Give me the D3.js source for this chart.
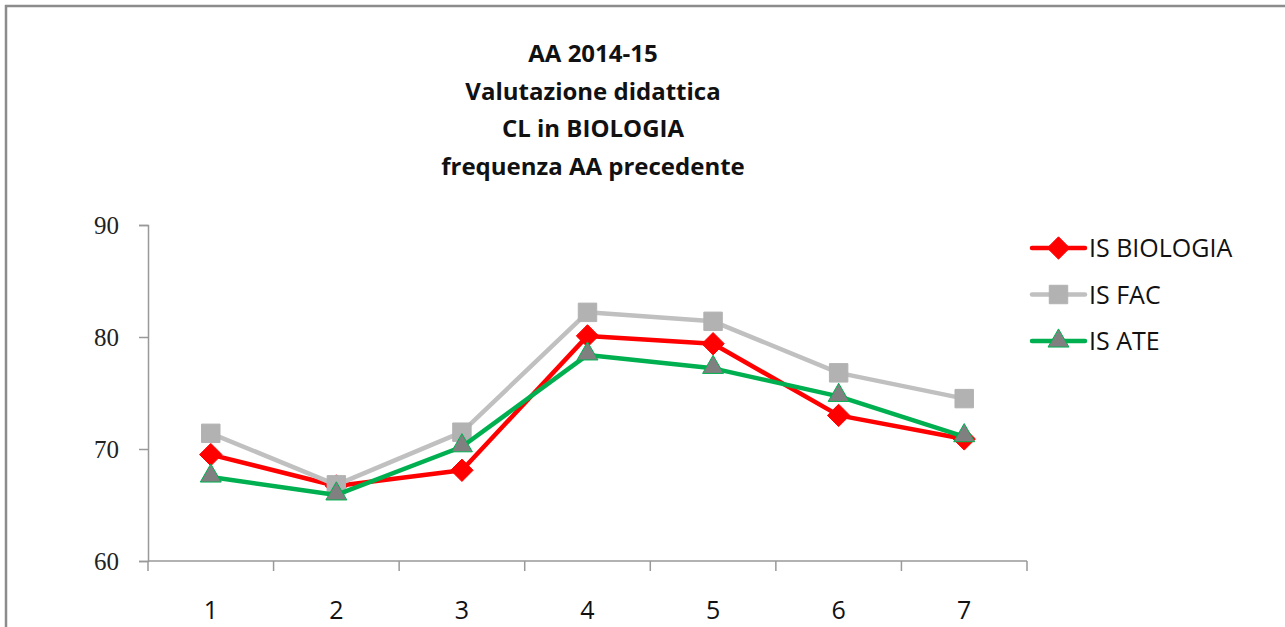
<!DOCTYPE html>
<html>
<head>
<meta charset="utf-8">
<script src="https://cdn.jsdelivr.net/npm/d3@7"></script>
<style>
  body { margin: 0; background: #fff; }
  svg { display: block; }
</style>
</head>
<body>
<div id="main"></div>
<script>
var categories = ["1", "2", "3", "4", "5", "6", "7"];
var isBiologia = [69.5, 66.7, 68.1, 80.1, 79.4, 73.0, 70.9];
var isFac = [71.4, 66.8, 71.5, 82.2, 81.4, 76.8, 74.5];
var isAte = [67.5, 65.9, 70.2, 78.4, 77.2, 74.7, 71.1];
var yTicks = [60, 70, 80, 90];
var titleLines = ["AA 2014-15", "Valutazione didattica", "CL in BIOLOGIA", "frequenza AA precedente"];

var diamond = { draw: function(ctx, size) {
  var r = Math.sqrt(size) / 2;
  ctx.moveTo(0, -r); ctx.lineTo(r, 0); ctx.lineTo(0, r); ctx.lineTo(-r, 0); ctx.closePath();
} };//square diamond like Excel

var series = [
  { name: "IS BIOLOGIA", values: isBiologia, line: "#ff0000", fill: "#ff0000", stroke: "#ff0000", shape: diamond, size: 500 },
  { name: "IS FAC", values: isFac, line: "#c0c0c0", fill: "#b2b2b2", stroke: "#b2b2b2", shape: d3.symbolSquare, size: 340 },
  { name: "IS ATE", values: isAte, line: "#00b050", fill: "#808080", stroke: "#00b050", shape: d3.symbolTriangle, size: 190 }
];

var sansFont = "'Open Sans', 'Noto Sans', sans-serif";

var canvas = d3.select("#main").append("svg")
  .attr("width", 1285)
  .attr("height", 627);//create canvas

canvas.append("rect")
  .attr("x", 6).attr("y", 6)
  .attr("width", 1300).attr("height", 650)
  .attr("fill", "#fff")
  .attr("stroke", "#8c8c8c")
  .attr("stroke-width", 2.5);//chart border

// title
canvas.append("g").selectAll("text").data(titleLines).enter().append("text")
  .attr("x", 593)
  .attr("y", function(d, i) { return 62 + i * 37.5; })
  .attr("text-anchor", "middle")
  .style("font-family", sansFont)
  .style("font-weight", "bold")
  .style("font-size", "24px")
  .style("fill", "#111")
  .text(function(d) { return d; });

var xScale = d3.scaleBand()
  .domain(categories)
  .range([148, 1027]);//x scale
var yScale = d3.scaleLinear()
  .domain([60, 90])
  .range([561, 225]);//y scale

var yAxis = canvas.append("g")
  .attr("transform", "translate(148, 0)")
  .call(d3.axisLeft(yScale).tickValues(yTicks).tickSize(9).tickPadding(20));
yAxis.select(".domain").attr("stroke", "#999").attr("stroke-width", 1.5);
yAxis.selectAll(".tick line").attr("stroke", "#999").attr("stroke-width", 1.5);
yAxis.selectAll(".tick text")
  .style("font-family", "'Liberation Serif', 'DejaVu Serif', serif")
  .style("font-size", "25px")
  .style("fill", "#222");

// x axis: ticks on band boundaries
var xAxis = canvas.append("g")
  .attr("transform", "translate(0, 561)");
xAxis.append("line")
  .attr("x1", xScale.range()[0]).attr("x2", xScale.range()[1])
  .attr("stroke", "#999").attr("stroke-width", 1.5);
var bounds = categories.map(function(d) { return xScale(d); }).concat([xScale.range()[1]]);
xAxis.selectAll(".bound").data(bounds).enter().append("line")
  .attr("class", "bound")
  .attr("x1", function(d) { return d; }).attr("x2", function(d) { return d; })
  .attr("y1", 0).attr("y2", 10)
  .attr("stroke", "#999").attr("stroke-width", 1.5);
xAxis.selectAll(".lab").data(categories).enter().append("text")
  .attr("class", "lab")
  .attr("x", function(d) { return xScale(d) + xScale.bandwidth() / 2; })
  .attr("y", 58)
  .attr("text-anchor", "middle")
  .style("font-family", sansFont)
  .style("font-size", "25px")
  .style("fill", "#111")
  .text(function(d) { return d; });

var line = d3.line()
  .x(function(d, i) { return xScale(categories[i]) + xScale.bandwidth() / 2; })
  .y(function(d) { return yScale(d); });

var groups = canvas.append("g").selectAll("g").data(series).enter().append("g");
groups.append("path")
  .attr("d", function(s) { return line(s.values); })
  .attr("fill", "none")
  .attr("stroke", function(s) { return s.line; })
  .attr("stroke-width", 4.5)
  .attr("stroke-linejoin", "round");
groups.each(function(s) {
  d3.select(this).selectAll("path.m").data(s.values).enter().append("path")
    .attr("class", "m")
    .attr("d", d3.symbol().type(s.shape).size(s.size))
    .attr("transform", function(d, i) {
      var dy = s.shape === d3.symbolTriangle ? -1 : 0;
      return "translate(" + (xScale(categories[i]) + xScale.bandwidth() / 2) + "," + (yScale(d) + dy) + ")";
    })
    .attr("fill", s.fill)
    .attr("stroke", s.stroke)
    .attr("stroke-width", 1);
});//draw lines and markers

// legend
var legend = canvas.append("g").selectAll("g").data(series).enter().append("g")
  .attr("transform", function(d, i) { return "translate(1032," + (248 + i * 46.5) + ")"; });
legend.append("line")
  .attr("x1", 0).attr("x2", 53)
  .attr("stroke", function(s) { return s.line; })
  .attr("stroke-width", 4.5)
  .attr("stroke-linecap", "round");
legend.append("path")
  .attr("d", function(s) { return d3.symbol().type(s.shape).size(s.size)(); })
  .attr("transform", "translate(26.5,0)")
  .attr("fill", function(s) { return s.fill; })
  .attr("stroke", function(s) { return s.stroke; })
  .attr("stroke-width", 1);
legend.append("text")
  .attr("x", 57)
  .attr("y", 9)
  .style("font-family", sansFont)
  .style("font-size", "25px")
  .style("fill", "#111")
  .text(function(s) { return s.name; });
</script>
</body>
</html>
